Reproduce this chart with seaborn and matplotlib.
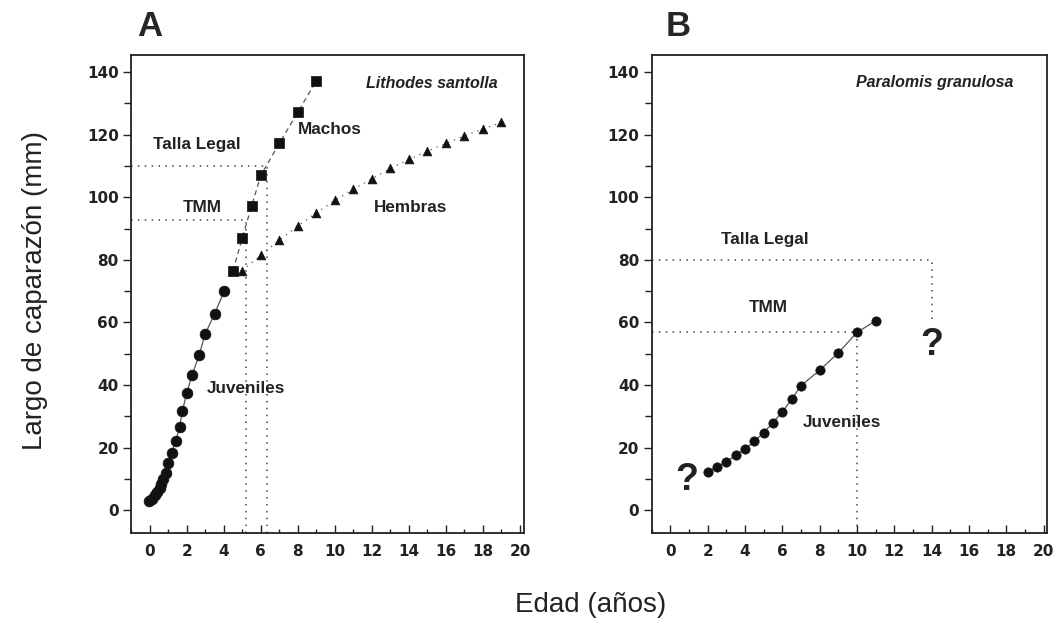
import numpy as np
import pandas as pd
import seaborn as sns
import matplotlib.pyplot as plt
from matplotlib.ticker import MultipleLocator

# Panel A - Lithodes santolla
juv_a_x = [-0.04, 0.14, 0.29, 0.41, 0.54, 0.63, 0.74, 0.86, 0.98, 1.18, 1.41, 1.61,
           1.77, 1.99, 2.29, 2.67, 2.99, 3.51, 4.03]
juv_a_y = [3.0, 3.7, 4.8, 5.9, 7.2, 8.5, 9.8, 12.0, 14.9, 18.4, 22.1, 26.6,
           31.7, 37.3, 43.2, 49.6, 56.2, 62.8, 70.1]
machos_x = [4.5, 5.0, 5.5, 6.0, 7.0, 8.0, 9.0]
machos_y = [76.5, 87.0, 97.1, 107.0, 117.2, 127.2, 137.2]
hembras_x = [5, 6, 7, 8, 9, 10, 11, 12, 13, 14, 15, 16, 17, 18, 19]
hembras_y = [76.5, 81.5, 86.3, 90.8, 95.0, 99.0, 102.6, 105.9, 109.2, 112.1,
             114.7, 117.2, 119.6, 121.8, 123.9]
legal_a = (6.33, 110)
tmm_a = (5.2, 92.6)

# Panel B - Paralomis granulosa
juv_b_x = [2.0, 2.5, 3.0, 3.5, 4.0, 4.5, 5.0, 5.5, 6.0, 6.5, 7.0, 8.0, 9.0, 10.0, 11.0]
juv_b_y = [12.2, 13.8, 15.4, 17.6, 19.6, 22.0, 24.8, 28.0, 31.4, 35.4, 39.8,
           44.7, 50.3, 56.8, 60.5]
legal_b = (14.0, 80)
tmm_b = (10.0, 56.8)

sns.set_style('ticks')
plt.rcParams['font.family'] = ['Liberation Sans', 'DejaVu Sans']

fig = plt.figure(figsize=(10.58, 6.27), dpi=100)
axA = fig.add_axes([0.124, 0.150, 0.371, 0.762])
axB = fig.add_axes([0.616, 0.150, 0.374, 0.762])

ymin = -7.3
dot = dict(color='#444444', lw=1.1, ls=(0, (1, 3.5)))


def series(ax, x, y, marker, ls, ms):
    d = pd.DataFrame({'x': x, 'y': y})
    sns.lineplot(data=d, x='x', y='y', ax=ax, color='#555555', lw=0.9,
                 linestyle=ls, sort=False)
    sns.scatterplot(data=d, x='x', y='y', ax=ax, marker=marker, s=ms,
                    color='#111111', edgecolor='#111111', linewidth=0.5, zorder=3)


# Panel A
series(axA, juv_a_x, juv_a_y, 'o', '-', 60)
series(axA, machos_x, machos_y, 's', (0, (4, 3)), 45)
series(axA, hembras_x, hembras_y, '^', (0, (1, 4)), 40)
axA.plot([-1, legal_a[0]], [legal_a[1]] * 2, **dot)
axA.plot([legal_a[0]] * 2, [ymin, legal_a[1]], **dot)
axA.plot([-1, tmm_a[0]], [tmm_a[1]] * 2, **dot)
axA.plot([tmm_a[0]] * 2, [ymin, tmm_a[1]], **dot)

tk = dict(fontsize=12.3, fontweight='bold', color='#222222')
sp_kw = dict(fontsize=11.5, fontweight='bold', style='italic', color='#222222')
axA.text(18.8, 136.4, 'Lithodes santolla', ha='right', va='center', **sp_kw)
axA.text(8.0, 121.7, 'Machos', ha='left', va='center', **tk)
axA.text(0.2, 117, 'Talla Legal', ha='left', va='center', **tk)
axA.text(1.8, 96.8, 'TMM', ha='left', va='center', **tk)
axA.text(12.1, 96.8, 'Hembras', ha='left', va='center', **tk)
axA.text(3.06, 39, 'Juveniles', ha='left', va='center', **tk)

# Panel B
series(axB, juv_b_x, juv_b_y, 'o', '-', 45)
axB.plot([-1, legal_b[0]], [legal_b[1]] * 2, **dot)
axB.plot([legal_b[0]] * 2, [61, legal_b[1]], **dot)
axB.plot([-1, tmm_b[0]], [tmm_b[1]] * 2, **dot)
axB.plot([tmm_b[0]] * 2, [ymin, tmm_b[1]], **dot)

axB.text(18.4, 136.7, 'Paralomis granulosa', ha='right', va='center', **sp_kw)
axB.text(2.7, 86.6, 'Talla Legal', ha='left', va='center', **tk)
axB.text(4.2, 64.9, 'TMM', ha='left', va='center', **tk)
axB.text(7.07, 28.1, 'Juveniles', ha='left', va='center', **tk)
axB.text(0.9, 9.6, '?', ha='center', va='center', fontsize=27, fontweight='bold', color='#222222')
axB.text(14.0, 52.7, '?', ha='center', va='center', fontsize=27, fontweight='bold', color='#222222')

for ax in (axA, axB):
    ax.set_xlim(-1, 20.2)
    ax.set_ylim(ymin, 145.4)
    ax.xaxis.set_major_locator(MultipleLocator(2))
    ax.xaxis.set_minor_locator(MultipleLocator(1))
    ax.yaxis.set_major_locator(MultipleLocator(20))
    ax.yaxis.set_minor_locator(MultipleLocator(10))
    ax.tick_params(which='both', bottom=True, left=True, top=False, right=False)
    ax.tick_params(axis='x', which='major', direction='in', length=6, width=1,
                   labelsize=11, pad=8, colors='#222222')
    ax.tick_params(axis='x', which='minor', direction='in', length=3, width=1, colors='#222222')
    ax.tick_params(axis='y', which='major', direction='out', length=6, width=1,
                   labelsize=11, pad=3, colors='#222222')
    ax.tick_params(axis='y', which='minor', direction='out', length=5, width=1, colors='#222222')
    for lab in ax.get_xticklabels() + ax.get_yticklabels():
        lab.set_fontweight('bold')
        lab.set_family('DejaVu Sans')
    for sp in ax.spines.values():
        sp.set_visible(True)
        sp.set_linewidth(1.3)
        sp.set_color('#222222')
    ax.set_xlabel('')
    ax.set_ylabel('')

fig.text(0.130, 0.958, 'A', fontsize=25, fontweight='bold', ha='left', va='center')
fig.text(0.629, 0.958, 'B', fontsize=25, fontweight='bold', ha='left', va='center')
fig.text(0.033, 0.537, 'Largo de caparazón (mm)', rotation=90, fontsize=20,
         ha='center', va='center', color='#222222')
fig.text(0.558, 0.035, 'Edad (años)', fontsize=20, ha='center', va='center', color='#222222')

fig.savefig('out.png', dpi=100)
